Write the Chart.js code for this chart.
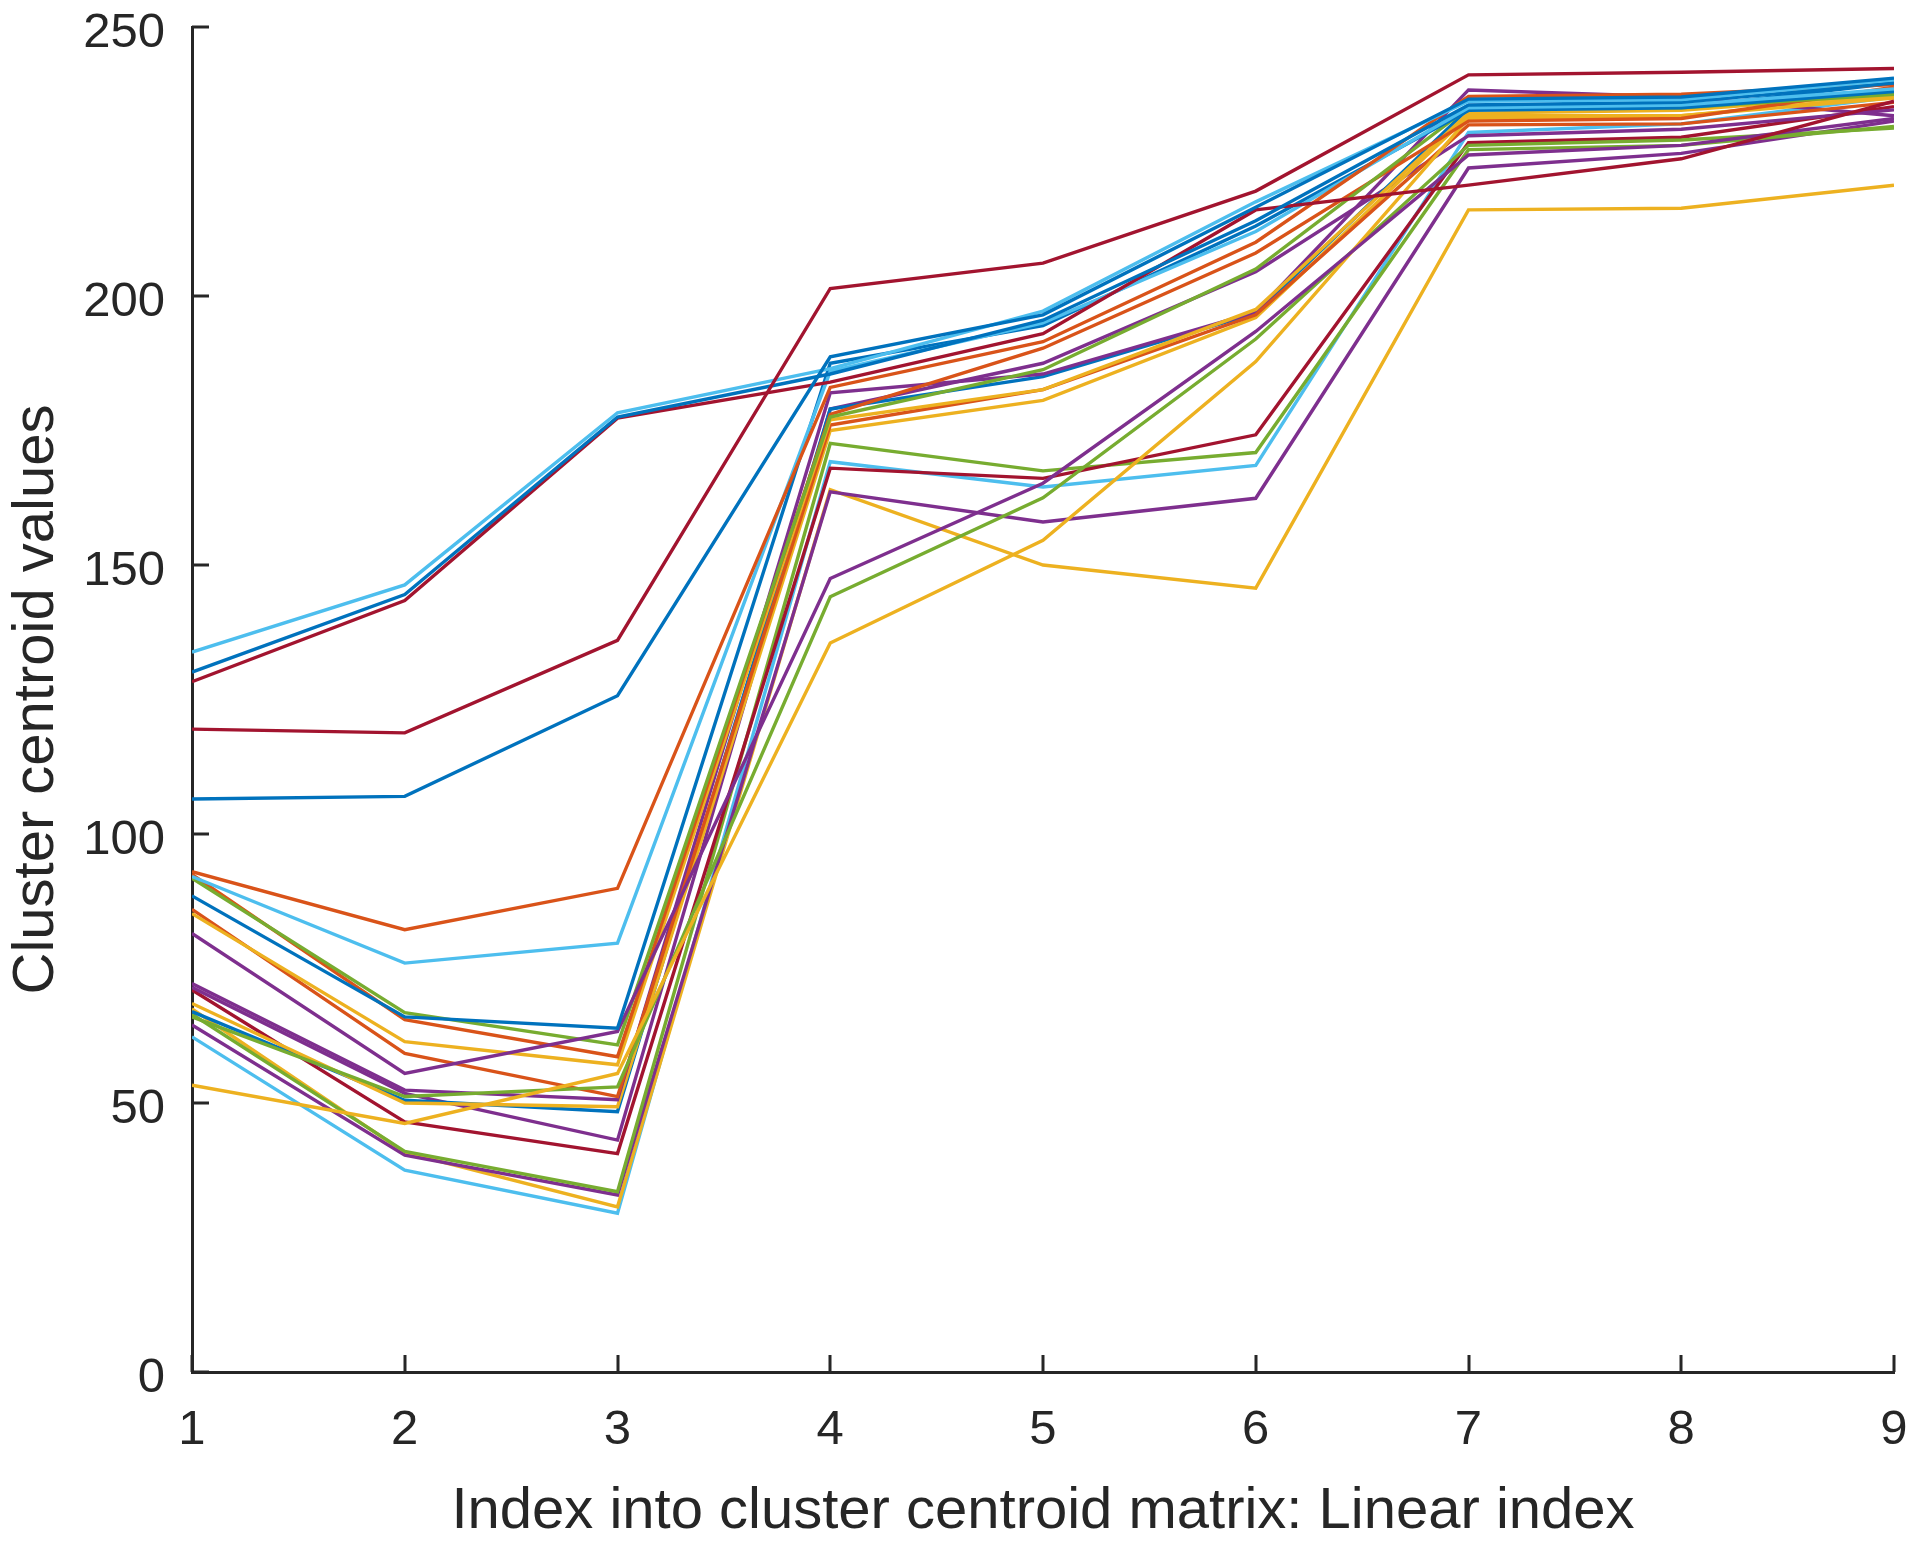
<!DOCTYPE html>
<html>
<head>
<meta charset="utf-8">
<script src="https://cdn.jsdelivr.net/npm/chart.js@4.4.1/dist/chart.umd.min.js"></script>
<style>
html,body{margin:0;padding:0;background:#ffffff;}
canvas{display:block;}
</style>
</head>
<body>
<canvas id="c" width="1920" height="1547"></canvas>
<script>
// ---- data ----
const xIndex = [1, 2, 3, 4, 5, 6, 7, 8, 9];
const yTickValues = [0, 50, 100, 150, 200, 250];
const xTitle = 'Index into cluster centroid matrix: Linear index';
const yTitle = 'Cluster centroid values';

const s01 = [119.5, 118.8, 136.0, 201.4, 206.1, 219.5, 241.1, 241.6, 242.3];
const s02 = [106.5, 107.0, 125.7, 188.7, 196.5, 216.5, 236.6, 237.0, 240.5];
const s03 = [133.8, 146.3, 178.3, 186.5, 197.2, 217.5, 236.2, 236.5, 240.2];
const s04 = [130.1, 144.5, 177.5, 185.5, 195.5, 214.0, 235.5, 236.0, 239.6];
const s05 = [128.3, 143.4, 177.3, 184.0, 193.0, 216.0, 220.6, 225.5, 236.2];
const s06 = [93.0, 82.2, 89.9, 183.0, 191.5, 210.0, 237.1, 237.5, 239.3];
const s07 = [92.1, 76.0, 79.7, 186.0, 195.0, 212.0, 235.0, 235.5, 238.5];
const s08 = [88.5, 66.0, 63.9, 187.5, 194.5, 213.0, 234.5, 235.0, 238.0];
const s09 = [81.5, 55.5, 63.3, 147.5, 165.2, 193.4, 226.2, 228.0, 233.0];
const s10 = [91.8, 66.8, 60.8, 177.5, 186.3, 205.0, 235.0, 235.0, 237.5];
const s11 = [92.5, 65.5, 58.6, 178.0, 190.3, 208.0, 232.5, 233.0, 238.8];
const s12 = [85.2, 61.4, 57.1, 177.0, 182.6, 197.5, 234.0, 234.5, 237.5];
const s13 = [53.3, 46.2, 55.5, 135.5, 154.6, 187.8, 233.0, 233.5, 236.8];
const s14 = [66.0, 51.2, 53.0, 144.1, 162.5, 192.0, 228.0, 229.0, 231.2];
const s15 = [86.0, 59.2, 51.2, 176.0, 182.6, 196.5, 231.8, 232.0, 236.0];
const s16 = [72.2, 52.4, 50.6, 182.0, 185.5, 197.0, 238.3, 237.0, 233.5];
const s17 = [68.5, 50.0, 49.3, 175.0, 180.6, 196.0, 233.5, 233.5, 237.2];
const s18 = [67.0, 50.5, 48.4, 179.0, 185.0, 196.8, 234.8, 235.0, 239.6];
const s19 = [71.5, 51.8, 43.1, 179.0, 187.5, 204.5, 229.8, 231.0, 234.6];
const s20 = [71.0, 46.5, 40.6, 168.0, 166.1, 174.2, 228.5, 229.5, 235.2];
const s21 = [66.5, 41.0, 33.5, 172.6, 167.5, 170.9, 227.2, 228.0, 231.5];
const s22 = [64.5, 40.3, 32.9, 163.6, 158.0, 162.4, 223.8, 226.5, 232.5];
const s23 = [67.5, 40.8, 30.7, 164.0, 150.0, 145.7, 216.0, 216.3, 220.6];
const s24 = [62.3, 37.5, 29.5, 169.2, 164.5, 168.5, 230.4, 232.0, 237.0];

const seriesList = [s01, s02, s03, s04, s05, s06, s07, s08, s09, s10, s11, s12,
                    s13, s14, s15, s16, s17, s18, s19, s20, s21, s22, s23, s24];

// ---- styles ----
const C = {B:'#0072BD', O:'#D95319', Y:'#EDB120', P:'#7E2F8E', G:'#77AC30', L:'#4DBEEE', R:'#A2142F'};
const seriesColorKeys = ['R','B','L','B','R','O','L','B','P','G','O','Y',
                         'Y','G','O','P','Y','B','P','R','G','P','Y','L'];
const axisColor = '#262626';
const fontFamily = '"Liberation Sans", Arial, Helvetica, sans-serif';

const datasets = seriesList.map((vals, i) => ({
  data: xIndex.map((x, j) => ({x: x, y: vals[j]})),
  borderColor: C[seriesColorKeys[i]],
  backgroundColor: C[seriesColorKeys[i]],
  borderWidth: 3.4,
  pointRadius: 0,
  tension: 0,
  fill: false
}));

const inwardTicks = {
  id: 'inwardTicks',
  afterDatasetsDraw(chart) {
    const {ctx, chartArea: a, scales} = chart;
    const xs = scales.x, ys = scales.y;
    ctx.save();
    ctx.strokeStyle = axisColor;
    ctx.lineWidth = 3;
    ctx.beginPath();
    xs.ticks.forEach(t => {
      const p = Math.round(xs.getPixelForValue(t.value));
      ctx.moveTo(p, a.bottom);
      ctx.lineTo(p, a.bottom - 17);
    });
    ys.ticks.forEach(t => {
      const p = Math.round(ys.getPixelForValue(t.value));
      ctx.moveTo(a.left, p);
      ctx.lineTo(a.left + 17, p);
    });
    ctx.stroke();
    ctx.restore();
  }
};

new Chart(document.getElementById('c'), {
  type: 'line',
  data: {datasets},
  plugins: [inwardTicks],
  options: {
    responsive: false,
    animation: false,
    devicePixelRatio: 1,
    layout: {padding: {top: 27, right: 26, left: 0, bottom: 0}},
    plugins: {legend: {display: false}, tooltip: {enabled: false}},
    scales: {
      x: {
        type: 'linear',
        min: 1, max: 9,
        afterBuildTicks: s => { s.ticks = xIndex.map(v => ({value: v})); },
        afterFit: s => { s.height = 175; s.paddingLeft = 0; s.paddingRight = 0; },
        grid: {display: true, drawOnChartArea: false, drawTicks: false},
        border: {display: true, color: axisColor, width: 3},
        ticks: {
          padding: 29, maxRotation: 0, autoSkip: false,
          color: axisColor,
          font: {family: fontFamily, size: 49},
          callback: v => String(v)
        },
        title: {
          display: true, text: xTitle, color: axisColor,
          font: {family: fontFamily, size: 58},
          padding: {top: 0, bottom: 0}
        }
      },
      y: {
        type: 'linear',
        min: 0, max: 250,
        afterBuildTicks: s => { s.ticks = yTickValues.map(v => ({value: v})); },
        afterFit: s => { s.width = 192; s.paddingTop = 0; s.paddingBottom = 0; },
        grid: {display: true, drawOnChartArea: false, drawTicks: false},
        border: {display: true, color: axisColor, width: 3},
        ticks: {
          padding: 27, autoSkip: false, labelOffset: 6,
          color: axisColor,
          font: {family: fontFamily, size: 49},
          callback: v => String(v)
        },
        title: {
          display: true, text: yTitle, color: axisColor,
          font: {family: fontFamily, size: 58},
          padding: {top: 2, bottom: 0}
        }
      }
    }
  }
});
</script>
</body>
</html>
